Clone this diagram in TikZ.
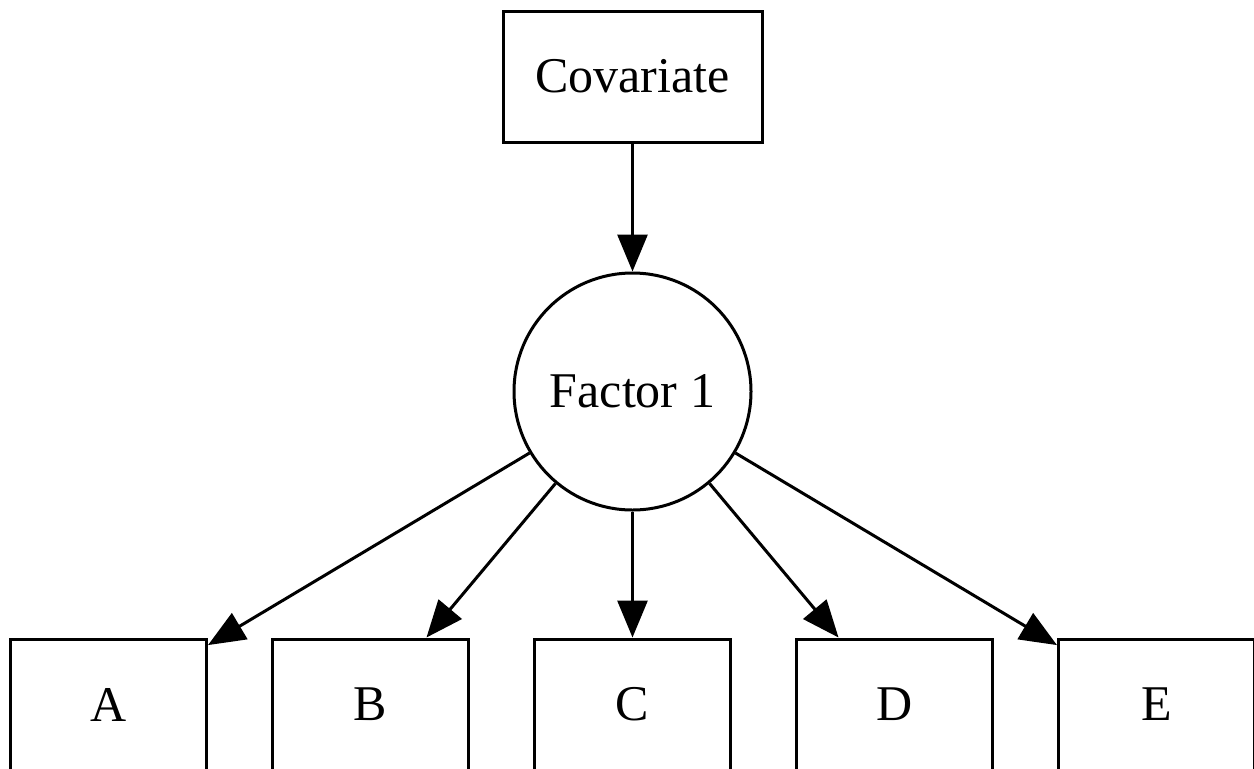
\documentclass[tikz,border=0pt]{standalone}
\usepackage{fontspec}
\setmainfont{Liberation Serif}
\usepackage{tikz}
\usetikzlibrary{arrows.meta, positioning}

\begin{document}
\begin{tikzpicture}[
    x=1pt, y=1pt,
    node distance=126pt and 63pt,
    every node/.style={font=\fontsize{50}{60}\selectfont},
    obs/.style={rectangle, draw, line width=3pt, minimum height=131pt, minimum width=196pt, inner sep=0pt},
    latent/.style={circle, draw, line width=3pt, minimum size=237pt, inner sep=0pt},
    arrow/.style={-{Triangle[length=37pt, width=30pt]}, line width=3pt},
]
    \useasboundingbox (0,0) rectangle (1254,-769);
    \clip (0,0) rectangle (1254,-769);

    \node[obs, minimum width=259pt] (cov) at (632.5,-76.5) {Covariate};
    \node[latent, below=128pt of cov] (fac) {Factor 1};
    \node[obs, below=of fac] (c) {C};
    \node[obs, left=of c] (b) {B};
    \node[obs, left=of b] (a) {A};
    \node[obs, right=of c] (d) {D};
    \node[obs, right=of d] (e) {E};

    \draw[arrow] (cov) -- (fac);
    \foreach \item in {a, b, c, d, e}
        \draw[arrow] (fac) -- (\item);
\end{tikzpicture}
\end{document}
